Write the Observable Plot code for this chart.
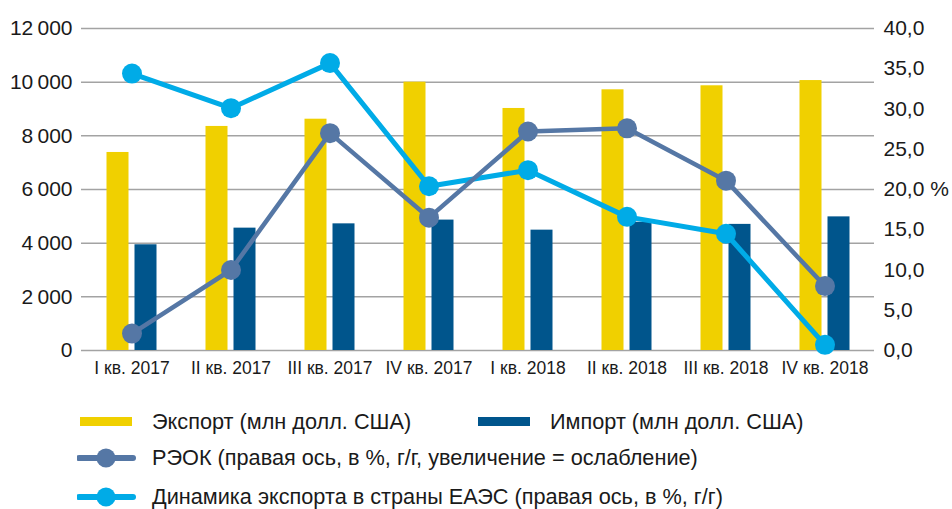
<!DOCTYPE html>
<html>
<head>
<meta charset="utf-8">
<script src="https://cdn.jsdelivr.net/npm/d3@7"></script>
<script src="https://cdn.jsdelivr.net/npm/@observablehq/plot@0.6"></script>
<style>
  html, body { margin: 0; padding: 0; background: #fff; }
  body { width: 952px; height: 509px; position: relative; overflow: hidden; font-family: "Liberation Sans", Arial, sans-serif; color: #1a1a1a; }
  #chart svg { display: block; }
  .legend-item { position: absolute; font-size: 21.7px; line-height: 22px; white-space: nowrap; }
  .sw { position: absolute; }
</style>
</head>
<body>
<div id="chart"></div>
<div id="legend"></div>
<script>
// ---- Data ----
const quarters = ["I кв. 2017", "II кв. 2017", "III кв. 2017", "IV кв. 2017", "I кв. 2018", "II кв. 2018", "III кв. 2018", "IV кв. 2018"];
const exportVals = [7380, 8350, 8620, 10000, 9020, 9715, 9865, 10060];
const importVals = [3940, 4560, 4720, 4860, 4485, 4780, 4700, 4980];
const reokVals = [2.1, 10.0, 27.0, 16.5, 27.2, 27.6, 21.1, 8.0];
const eaesVals = [34.4, 30.1, 35.7, 20.4, 22.4, 16.6, 14.5, 0.7];
const leftTicks = [0, 2000, 4000, 6000, 8000, 10000, 12000];
const rightTicks = [0, 5, 10, 15, 20, 25, 30, 35, 40];
const seriesNames = ["Экспорт (млн долл. США)", "Импорт (млн долл. США)", "РЭОК (правая ось, в %, г/г, увеличение = ослабление)", "Динамика экспорта в страны ЕАЭС (правая ось, в %, г/г)"];

const colYellow = "#f0d000", colNavy = "#00558c", colSlate = "#5577a5", colCyan = "#00abe7";
const k = 12000 / 40; // right-axis -> left-axis factor

const rows = quarters.map((q, i) => ({q, exp: exportVals[i], imp: importVals[i], reok: reokVals[i], eaes: eaesVals[i]}));

const fmtLeft = d => String(d).replace(/\B(?=(\d{3})+(?!\d))/g, "\u2009");
const fmtRight = d => { const v = d / k; const s = v.toFixed(1).replace(".", ","); return v === 20 ? s + " %" : s; };

const chart = Plot.plot({
  width: 952, height: 385,
  marginLeft: 81, marginRight: 78, marginTop: 28, marginBottom: 35,
  style: {fontFamily: "'Liberation Sans', Arial, sans-serif", color: "#1a1a1a", background: "#fff"},
  x: {type: "band", domain: quarters, padding: 0, axis: null},
  y: {domain: [0, 12000], axis: null},
  marks: [
    Plot.ruleY(leftTicks, {stroke: "#a3a3a3", strokeWidth: 1.5}),
    Plot.barY(rows, {x: "q", y: "exp", fill: colYellow, insetLeft: 24.5, insetRight: 52.5}),
    Plot.barY(rows, {x: "q", y: "imp", fill: colNavy, insetLeft: 52.5, insetRight: 24.5}),
    Plot.line(rows, {x: "q", y: d => d.eaes * k, stroke: colCyan, strokeWidth: 5}),
    Plot.dot(rows, {x: "q", y: d => d.eaes * k, r: 10, fill: colCyan}),
    Plot.line(rows, {x: "q", y: d => d.reok * k, stroke: colSlate, strokeWidth: 4.5}),
    Plot.dot(rows, {x: "q", y: d => d.reok * k, r: 10, fill: colSlate}),
    Plot.axisY(leftTicks, {anchor: "left", tickSize: 0, tickPadding: 9, tickFormat: fmtLeft, fontSize: 21, label: null}),
    Plot.axisY(rightTicks.map(v => v * k), {anchor: "right", tickSize: 0, tickPadding: 9, tickFormat: fmtRight, fontSize: 21, label: null}),
    Plot.axisX({tickSize: 0, tickPadding: 11, fontSize: 17.5, label: null})
  ]
});
document.getElementById("chart").appendChild(chart);

// ---- Legend (HTML) ----
const legend = document.getElementById("legend");
function addText(txt, x, cy) {
  const d = document.createElement("div");
  d.className = "legend-item";
  d.textContent = txt;
  d.style.left = x + "px";
  d.style.top = (cy - 11) + "px";
  legend.appendChild(d);
}
function addRect(color, x, cy, w, h) {
  const d = document.createElement("div");
  d.className = "sw";
  d.style.cssText = `left:${x}px;top:${cy - h / 2}px;width:${w}px;height:${h}px;background:${color}`;
  legend.appendChild(d);
}
function addLineDot(color, x, cy) {
  const ns = "http://www.w3.org/2000/svg";
  const s = document.createElementNS(ns, "svg");
  s.setAttribute("width", 60); s.setAttribute("height", 24);
  s.style.position = "absolute"; s.style.left = (x - 2) + "px"; s.style.top = (cy - 12) + "px";
  const l = document.createElementNS(ns, "line");
  l.setAttribute("x1", 2); l.setAttribute("x2", 56); l.setAttribute("y1", 12); l.setAttribute("y2", 12);
  l.setAttribute("stroke", color); l.setAttribute("stroke-width", 6); l.setAttribute("stroke-linecap", "round");
  const c = document.createElementNS(ns, "circle");
  c.setAttribute("cx", 29); c.setAttribute("cy", 12); c.setAttribute("r", 9.5); c.setAttribute("fill", color);
  s.appendChild(l); s.appendChild(c);
  legend.appendChild(s);
}
addRect(colYellow, 80, 421.5, 52, 9);
addText(seriesNames[0], 152, 421.5);
addRect(colNavy, 478, 421.5, 52, 9);
addText(seriesNames[1], 550, 421.5);
addLineDot(colSlate, 79, 458);
addText(seriesNames[2], 152, 458);
addLineDot(colCyan, 79, 496.5);
addText(seriesNames[3], 152, 496.5);
</script>
</body>
</html>
